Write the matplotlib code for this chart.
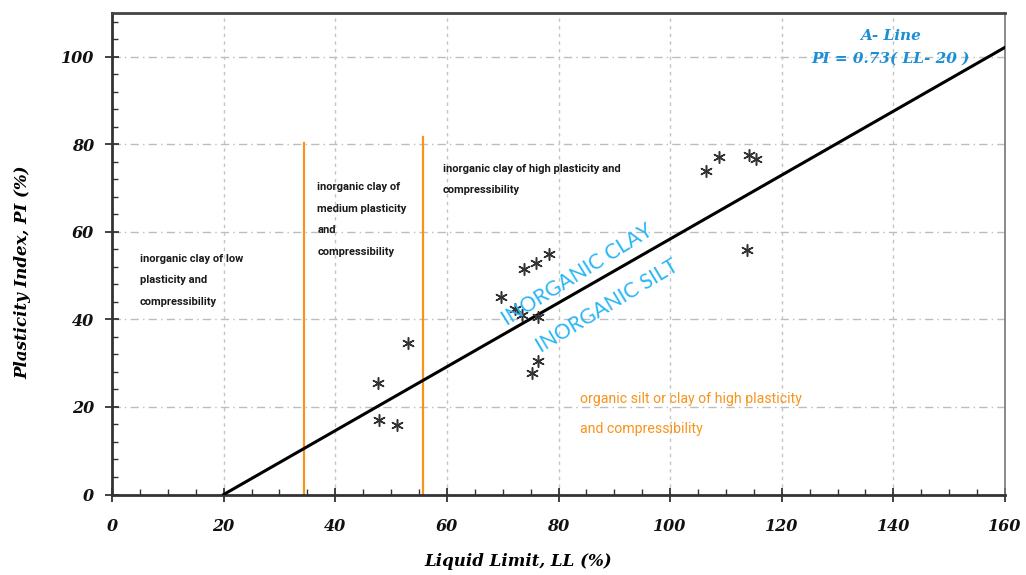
import matplotlib
matplotlib.use("Agg")
import matplotlib.pyplot as plt
import numpy as np
from matplotlib.ticker import MultipleLocator

# Data
LL = [47.7, 47.9, 51.0, 53.1, 69.7, 72.2, 73.5, 76.3, 73.9, 76.0, 78.3,
      76.3, 75.2, 106.5, 108.8, 114.1, 115.4, 113.7]
PI = [25.4, 17.0, 15.9, 34.6, 45.2, 42.3, 41.0, 40.6, 51.5, 52.8, 54.9,
      30.5, 27.7, 73.9, 77.2, 77.6, 76.7, 55.9]

aline_ll = [20, 160]
aline_pi = [0.73 * (v - 20) for v in aline_ll]

boundary_ll = [34.4, 55.8]
boundary_top = [80.3, 81.7]

x_ticks = [0, 20, 40, 60, 80, 100, 120, 140, 160]
y_ticks = [0, 20, 40, 60, 80, 100]

fig = plt.figure(figsize=(10.26, 5.75), dpi=100)
ax = fig.add_axes([0.1092, 0.140, 0.8703, 0.837])

ax.set_xlim(0, 160)
ax.set_ylim(0, 110)

# grid
for y in y_ticks[1:]:
    ax.axhline(y, color="#bdbdbd", lw=1.0, ls=(0, (6, 3, 1, 3)), zorder=0)
for x in x_ticks[1:-1]:
    ax.axvline(x, color="#c4c4c4", lw=1.0, ls=(0, (2.5, 3)), zorder=0)

# boundary lines
for xb, yt in zip(boundary_ll, boundary_top):
    ax.plot([xb, xb], [0, yt], color="#f7941d", lw=1.6, zorder=2)

# A-line
ax.plot(aline_ll, aline_pi, color="black", lw=2.2, zorder=3)

# points
ax.scatter(LL, PI, marker=(6, 2, 0), s=70, color="#333333", linewidths=1.1, zorder=4)

# ticks
ax.set_xticks(x_ticks)
ax.set_yticks(y_ticks)
ax.xaxis.set_minor_locator(MultipleLocator(5))
ax.yaxis.set_minor_locator(MultipleLocator(4))
ax.tick_params(which="major", direction="inout", length=10, width=1.3, color="#333333")
ax.tick_params(which="minor", direction="in", length=4, width=1.0, color="#333333")
ax.tick_params(axis="x", pad=12)
ax.tick_params(axis="y", pad=8)
for lab in ax.get_xticklabels() + ax.get_yticklabels():
    lab.set_fontfamily("DejaVu Serif")
    lab.set_fontweight("bold")
    lab.set_fontstyle("italic")
    lab.set_fontsize(11.5)
    lab.set_color("#111111")

for side in ["left", "bottom"]:
    ax.spines[side].set_linewidth(2.0)
    ax.spines[side].set_color("#333333")
ax.spines["top"].set_linewidth(2.0)
ax.spines["top"].set_color("#444444")
ax.spines["right"].set_linewidth(1.2)
ax.spines["right"].set_color("#777777")

ax.set_xlabel("Liquid Limit, LL (%)", fontfamily="DejaVu Serif", fontweight="bold",
              fontstyle="italic", fontsize=12)
ax.xaxis.set_label_coords(0.455, -0.1215)
ax.set_ylabel("Plasticity Index, PI (%)", fontfamily="DejaVu Serif", fontweight="bold",
              fontstyle="italic", fontsize=12)
ax.yaxis.set_label_coords(-0.0907, 0.462)

narrow = ["Roboto", "DejaVu Sans"]
tkw = dict(fontfamily=narrow, fontweight="bold", fontsize=8, color="#1a1a1a",
           va="top", ha="left", linespacing=2.45, zorder=5)
ax.text(5.0, 55.0, "inorganic clay of low\nplasticity and\ncompressibility", **tkw)
ax.text(36.8, 71.4, "inorganic clay of\nmedium plasticity\nand\ncompressibility", **tkw)
ax.text(59.3, 75.6, "inorganic clay of high plasticity and\ncompressibility", **tkw)

ax.text(83.8, 23.4, "organic silt or clay of high plasticity\nand compressibility",
        fontfamily=narrow, fontsize=10.2, color="#f7941d", va="top", ha="left",
        linespacing=2.43, zorder=5)

ax.text(83.4, 50.2, "INORGANIC CLAY", fontfamily="Lato", fontsize=15, color="#29b6f6",
        rotation=32, rotation_mode="anchor", ha="center", va="center", zorder=5)
ax.text(88.8, 43.1, "INORGANIC SILT", fontfamily="Lato", fontsize=15, color="#29b6f6",
        rotation=31, rotation_mode="anchor", ha="center", va="center", zorder=5)

ax.text(139.5, 106.3, "A- Line\nPI = 0.73( LL- 20 )", fontfamily="DejaVu Serif",
        fontweight="bold", fontstyle="italic", fontsize=11, color="#1b8fd6",
        ha="center", va="top", linespacing=1.75, zorder=5)

fig.savefig("out.png", dpi=100)
